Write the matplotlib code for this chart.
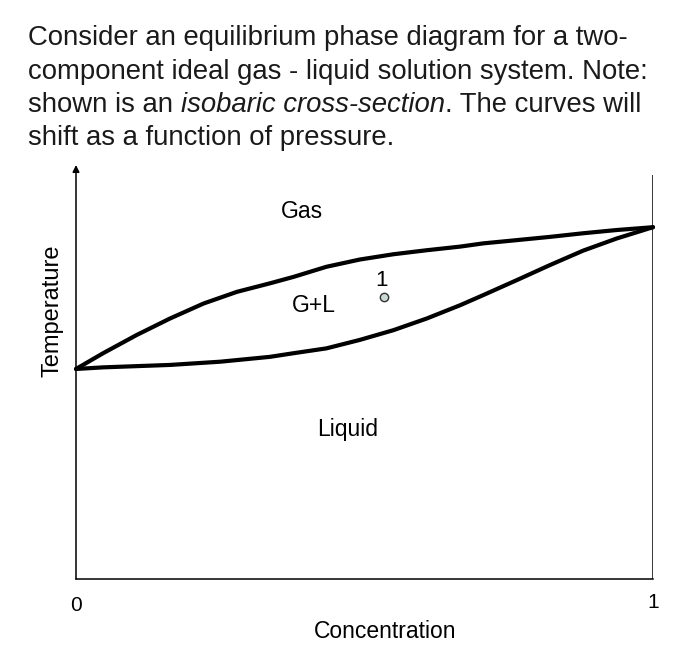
import matplotlib
matplotlib.use("Agg")
import matplotlib.pyplot as plt

W, H = 700, 656
fig = plt.figure(figsize=(W/100, H/100), dpi=100)

# Data (concentration, temperature in relative units)
gas_x = [0.0, 0.047, 0.105, 0.163, 0.221, 0.279, 0.336, 0.377, 0.434, 0.492,
         0.550, 0.608, 0.666, 0.706, 0.764, 0.821, 0.879, 0.937, 1.0]
gas_t = [0.520, 0.559, 0.604, 0.645, 0.682, 0.711, 0.732, 0.748, 0.773, 0.791,
         0.804, 0.814, 0.823, 0.831, 0.839, 0.847, 0.856, 0.864, 0.871]
liq_x = [0.0, 0.047, 0.163, 0.250, 0.336, 0.377, 0.434, 0.492, 0.550, 0.608,
         0.666, 0.706, 0.764, 0.821, 0.879, 0.937, 1.0]
liq_t = [0.520, 0.524, 0.530, 0.538, 0.550, 0.559, 0.571, 0.592, 0.616, 0.645,
         0.678, 0.703, 0.740, 0.777, 0.813, 0.843, 0.871]
point_x = [0.534]
point_t = [0.699]
point_label = "1"
region_labels = ["Gas", "G+L", "Liquid"]
region_x = [0.391, 0.412, 0.471]
region_t = [0.909, 0.678, 0.369]
xtick_labels = ["0", "1"]
x_label = "Concentration"
y_label = "Temperature"
title_lines = ["Consider an equilibrium phase diagram for a two-",
               "component ideal gas - liquid solution system. Note:",
               "shown is an ", "isobaric cross-section", ". The curves will",
               "shift as a function of pressure."]

FONT = "Liberation Sans"
x0, x1, yb, yt = 76, 653, 579, 165
ax = fig.add_axes([x0/W, (H-yb)/H, (x1-x0)/W, (yb-yt)/H])
ax.set_xlim(0, 1)
ax.set_ylim(0, 1.025)
for s in ["top", "right", "left"]:
    ax.spines[s].set_visible(False)
ax.spines["bottom"].set_linewidth(1.1)
ax.set_xticks([])
ax.set_yticks([])
ax.plot([1, 1], [0, 1.0], color="black", lw=1.1, solid_capstyle="butt")
ax.annotate("", xy=(0, 1.025), xytext=(0, 0), xycoords="data",
            arrowprops=dict(arrowstyle="-|>", color="black", lw=1.1,
                            mutation_scale=10, shrinkA=0, shrinkB=0))
ax.plot(gas_x, gas_t, color="black", lw=3, solid_capstyle="round",
        solid_joinstyle="round", clip_on=False)
ax.plot(liq_x, liq_t, color="black", lw=3, solid_capstyle="round",
        solid_joinstyle="round", clip_on=False)
ax.plot(point_x, point_t, "o", ms=6, mfc="#c9d9d6", mec="#333333", mew=1)
ax.text(point_x[0] - 0.004, point_t[0] + 0.04, point_label, ha="center", va="center",
        fontsize=16, family=FONT)
for lab, x, t in zip(region_labels, region_x, region_t):
    ax.text(x, t, lab, ha="center", va="center", fontsize=16.5, family=FONT)
ax.text(0, -0.065, xtick_labels[0], ha="center", va="center", fontsize=15, family=FONT)
ax.text(1, -0.058, xtick_labels[1], ha="center", va="center", fontsize=15, family=FONT)
ax.text(0.535, -0.13, x_label, ha="center", va="center", fontsize=16.5, family=FONT)
ax.text(-0.040, 0.663, y_label, ha="center", va="center", rotation=90,
        fontsize=17, family=FONT)

TS = 19.8
TC = "#1a1a1a"
fig.text(28/W, 1-45/H, title_lines[0], fontsize=TS, family=FONT, va="baseline", color=TC)
fig.text(28/W, 1-79/H, title_lines[1], fontsize=TS, family=FONT, va="baseline", color=TC)
r = fig.canvas.get_renderer()
t1 = fig.text(28/W, 1-112/H, title_lines[2], fontsize=TS, family=FONT, va="baseline", color=TC)
bb = t1.get_window_extent(r)
t2 = fig.text(bb.x1/W, 1-112/H, title_lines[3], fontsize=TS, family=FONT,
              style="italic", va="baseline", color=TC)
bb2 = t2.get_window_extent(r)
fig.text(bb2.x1/W, 1-112/H, title_lines[4], fontsize=TS, family=FONT, va="baseline", color=TC)
fig.text(28/W, 1-145/H, title_lines[5], fontsize=TS, family=FONT, va="baseline", color=TC)

fig.savefig("out.png", dpi=100)
